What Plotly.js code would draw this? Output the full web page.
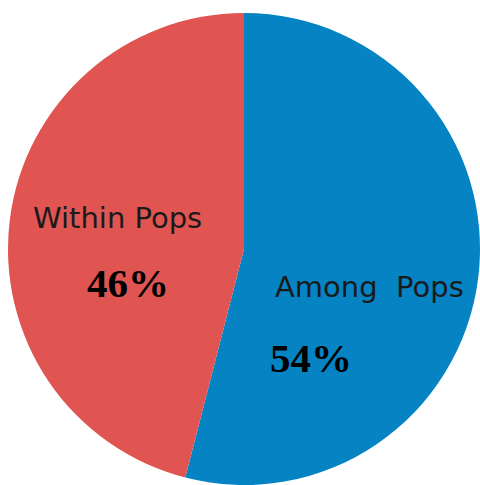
<!DOCTYPE html>
<html>
<head>
<meta charset="utf-8">
<script src="https://cdn.plot.ly/plotly-3.0.1.min.js"></script>
<style>html,body{margin:0;padding:0;background:#fff;}#chart{width:480px;height:485px;}</style>
</head>
<body>
<div id="chart"></div>
<script>
const categories = ["Among Pops", "Within Pops"];
const values = [54, 46];
const percentLabels = ["54%", "46%"];
const colors = ["#0583C3", "#E05452"];

const W = 480, H = 485;
// label anchor positions in pixels (name, percent) for each category
const namePos = [[369, 287], [117, 218]];
const pctPos = [[311, 358], [128, 283]];

const annotations = [];
categories.forEach((c, i) => {
  annotations.push({
    text: c === "Among Pops" ? "Among&nbsp;&nbsp;Pops" : c,
    xref: "paper", yref: "paper",
    x: namePos[i][0] / W, y: 1 - namePos[i][1] / H,
    xanchor: "center", yanchor: "middle", showarrow: false,
    font: {family: "DejaVu Sans", size: 29, color: "#1a1a1a"}
  });
  annotations.push({
    text: "<b>" + percentLabels[i] + "</b>",
    xref: "paper", yref: "paper",
    x: pctPos[i][0] / W, y: 1 - pctPos[i][1] / H,
    xanchor: "center", yanchor: "middle", showarrow: false,
    font: {family: "Liberation Serif", size: 41, color: "#000"}
  });
});

Plotly.newPlot("chart", [{
  type: "pie",
  labels: categories,
  values: values,
  sort: false,
  direction: "clockwise",
  rotation: 0,
  textinfo: "none",
  hoverinfo: "label+percent",
  marker: {colors: colors, line: {width: 0}},
  domain: {x: [8 / W, 1], y: [0, 1 - 13 / H]}
}], {
  width: W, height: H,
  margin: {l: 0, r: 0, t: 0, b: 0},
  showlegend: false,
  paper_bgcolor: "#fff",
  annotations: annotations
}, {displayModeBar: false, staticPlot: true});
</script>
</body>
</html>
